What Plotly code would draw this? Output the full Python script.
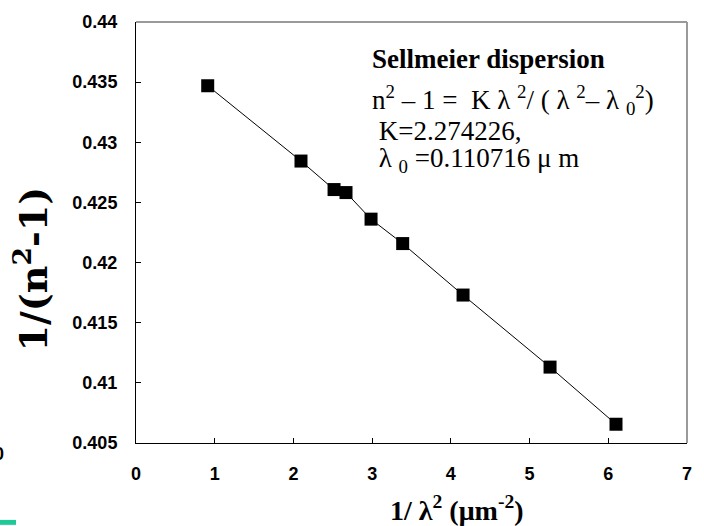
import plotly.graph_objects as go

# 1/lambda^2 (um^-2) and 1/(n^2-1)
inv_lambda_sq = [0.911, 2.096, 2.516, 2.668, 2.986, 3.388, 4.155, 5.260, 6.098]
inv_n2_minus_1 = [0.4347, 0.42844, 0.42607, 0.42582, 0.42361, 0.42158, 0.41730, 0.41131, 0.40656]

x_ticks = [0, 1, 2, 3, 4, 5, 6, 7]
y_ticks = [0.405, 0.41, 0.415, 0.42, 0.425, 0.43, 0.435, 0.44]
y_tick_text = ["0.405", "0.41", "0.415", "0.42", "0.425", "0.43", "0.435", "0.44"]

W, H = 704, 526
L, R, T, B = 136, 17, 16, 83
pw, ph = W - L - R, H - T - B


def px(x):
    # page pixel -> paper x
    return (x - L) / pw


def py(y):
    # page pixel -> paper y
    return (H - B - y) / ph


serif = "Liberation Serif, Times New Roman, serif"
tick_font = dict(family="Liberation Sans, Arial", size=18, color="black", weight="bold")

fig = go.Figure()

fig.add_trace(
    go.Scatter(
        x=inv_lambda_sq,
        y=inv_n2_minus_1,
        mode="lines+markers",
        line=dict(color="black", width=1),
        marker=dict(symbol="square", size=13, color="black"),
        showlegend=False,
    )
)

annotations = [
    dict(x=px(370), y=py(54), text="<b>Sellmeier dispersion</b>",
         font=dict(family=serif, size=27, color="black")),
    dict(x=px(370), y=py(95),
         text="n<sup>2</sup> – 1 =  K λ <sup>2</sup>/ ( λ <sup>2</sup>– λ <sub>0</sub><sup>2</sup>)",
         font=dict(family=serif, size=27, color="black")),
    dict(x=px(370), y=py(127), text=" K=2.274226,",
         font=dict(family=serif, size=27, color="black")),
    dict(x=px(370), y=py(156), text=" λ <sub>0</sub> =0.110716 μ m",
         font=dict(family=serif, size=27, color="black")),
]
for a in annotations:
    a.update(xref="paper", yref="paper", xanchor="left", yanchor="middle", showarrow=False)

# axis titles
annotations.append(dict(
    x=px(457), y=py(509), xref="paper", yref="paper", showarrow=False,
    xanchor="center", yanchor="middle",
    text="<b>1/ λ<sup>2</sup> (μm<sup>-2</sup>)</b>",
    font=dict(family=serif, size=28, color="black"),
))
annotations.append(dict(
    x=px(32), y=py(266), xref="paper", yref="paper", showarrow=False,
    xanchor="center", yanchor="middle", textangle=-90,
    text="<b>1/(n<sup>2</sup>-1)</b>",
    font=dict(family="DejaVu Serif", size=38, color="black"),
))
# stray clipped label at left edge
annotations.append(dict(
    x=px(-1), y=py(454), xref="paper", yref="paper", showarrow=False,
    xanchor="center", yanchor="middle", text="0", font=tick_font,
))

fig.update_layout(
    width=W,
    height=H,
    margin=dict(l=L, r=R, t=T, b=B),
    paper_bgcolor="white",
    plot_bgcolor="white",
    annotations=annotations,
    shapes=[
        dict(type="line", xref="paper", yref="paper", x0=0, x1=1, y0=1, y1=1,
             line=dict(color="#9a9a9a", width=2)),
        dict(type="line", xref="paper", yref="paper", x0=1, x1=1, y0=0, y1=1,
             line=dict(color="#9a9a9a", width=2)),
        dict(type="rect", xref="paper", yref="paper",
             x0=px(0), x1=px(16), y0=py(526), y1=py(521),
             fillcolor="#20c997", line=dict(width=0)),
    ],
)

fig.update_xaxes(
    range=[0, 7],
    tickvals=x_ticks,
    ticks="inside",
    ticklen=5,
    tickcolor="black",
    showline=True,
    linecolor="black",
    linewidth=1,
    showgrid=False,
    zeroline=False,
    tickfont=tick_font,
    ticklabelstandoff=14,
)
fig.update_yaxes(
    range=[0.405, 0.44],
    tickvals=y_ticks,
    ticktext=y_tick_text,
    ticks="inside",
    ticklen=5,
    tickcolor="black",
    showline=True,
    linecolor="black",
    linewidth=1,
    showgrid=False,
    zeroline=False,
    tickfont=tick_font,
    ticklabelstandoff=14,
)

fig.write_html(
    "out.html",
    config={"displayModeBar": False},
    post_script="document.body.style.margin='0';",
)
